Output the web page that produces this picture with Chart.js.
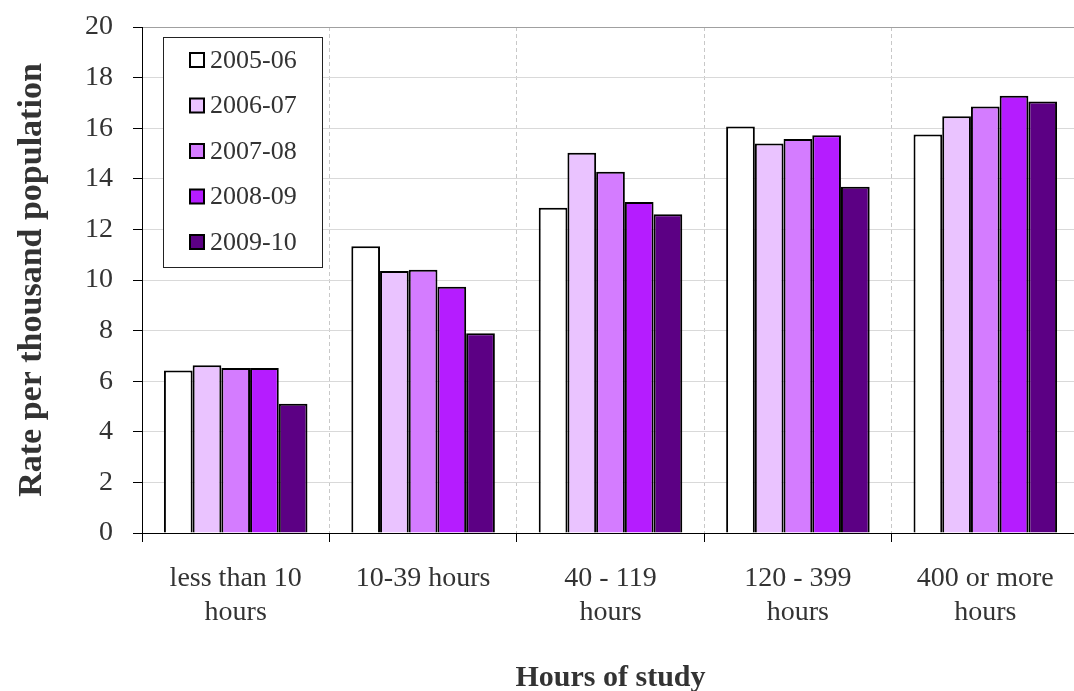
<!DOCTYPE html>
<html><head><meta charset="utf-8">
<script src="https://cdn.jsdelivr.net/npm/chart.js@4/dist/chart.umd.min.js"></script>
<style>html,body{margin:0;padding:0;background:#fff;overflow:hidden}#wrap{width:1090px;height:691px;position:relative}</style>
</head><body><div id="wrap"><canvas id="c"></canvas></div>
<script>
const categories = [["less than 10","hours"], "10-39 hours", ["40 - 119","hours"], ["120 - 399","hours"], ["400 or more","hours"]];
const seriesNames = ["2005-06","2006-07","2007-08","2008-09","2009-10"];
const v2005_06 = [6.42, 11.33, 12.86, 16.07, 15.75];
const v2006_07 = [6.63, 10.36, 15.03, 15.40, 16.47];
const v2007_08 = [6.52, 10.41, 14.28, 15.57, 16.86];
const v2008_09 = [6.52, 9.73, 13.08, 15.72, 17.28];
const v2009_10 = [5.11, 7.90, 12.60, 13.69, 17.06];
const seriesColors = ["#ffffff","#eac3ff","#d47cff","#b51cff","#5c0084"];
const yTickValues = [0,2,4,6,8,10,12,14,16,18,20];
const xTitle = "Hours of study";
const yTitle = "Rate per thousand population";

const FONT = '"Liberation Serif", "Times New Roman", serif';
Chart.defaults.font.family = FONT;
Chart.defaults.color = '#333';

const seriesValues = [v2005_06, v2006_07, v2007_08, v2008_09, v2009_10];

const boxLegend = {
  id: 'boxLegend',
  afterDraw(chart) {
    const ctx = chart.ctx, a = chart.chartArea;
    const x = a.left + 21, y = a.top + 10, w = 159, h = 230;
    ctx.save();
    ctx.fillStyle = '#fff';
    ctx.fillRect(x, y, w, h);
    ctx.strokeStyle = '#222';
    ctx.lineWidth = 1;
    ctx.strokeRect(x + 0.5, y + 0.5, w, h);
    ctx.font = '26px ' + FONT;
    ctx.textBaseline = 'middle';
    chart.data.datasets.forEach((ds, i) => {
      const cy = y + 23 + i * 45.5;
      ctx.fillStyle = ds.backgroundColor;
      ctx.fillRect(x + 27, cy - 7, 14, 14);
      ctx.strokeStyle = '#000';
      ctx.lineWidth = 2;
      ctx.strokeRect(x + 27, cy - 7, 14, 14);
      ctx.fillStyle = '#333';
      ctx.fillText(ds.label, x + 47, cy + 1);
    });
    ctx.restore();
  }
};

new Chart(document.getElementById('c'), {
  type: 'bar',
  data: {
    labels: categories,
    datasets: seriesNames.map((n, i) => ({
      label: n,
      data: seriesValues[i],
      backgroundColor: seriesColors[i],
      borderColor: '#000',
      borderWidth: 2,
      categoryPercentage: 0.766,
      barPercentage: 1.0
    }))
  },
  options: {
    responsive: true,
    maintainAspectRatio: false,
    animation: false,
    events: [],
    layout: { padding: { top: 27, right: 11, left: 0, bottom: 0 } },
    plugins: { legend: { display: false }, tooltip: { enabled: false } },
    scales: {
      x: {
        grid: { offset: true, color: '#c8c8c8', tickColor: '#000', tickLength: 9, drawOnChartArea: true },
        border: { color: '#000', width: 1, dash: [4, 3] },
        ticks: { font: { size: 28 }, color: '#333', padding: 20, maxRotation: 0, autoSkip: false },
        title: { display: true, text: xTitle, font: { size: 30, weight: 'bold' }, color: '#333', padding: { top: 0, bottom: -5 } },
        afterFit(s) { s.height = 158; s.paddingLeft = 0; s.paddingRight = 0; }
      },
      y: {
        min: 0, max: 20,
        afterBuildTicks(s) { s.ticks = yTickValues.map(v => ({ value: v })); },
        grid: { color: (c) => c.tick && c.tick.value === 20 ? '#a0a0a0' : '#d9d9d9', tickColor: '#000', tickLength: 9 },
        border: { color: '#000', width: 1 },
        ticks: { font: { size: 28 }, color: '#333', padding: 20 },
        title: { display: true, text: yTitle, font: { size: 34, weight: 'bold' }, color: '#333', padding: { top: 12, bottom: 0 } },
        afterFit(s) { s.width = 142; s.paddingTop = 0; s.paddingBottom = 0; }
      }
    }
  },
  plugins: [boxLegend]
});
</script>
</body></html>
